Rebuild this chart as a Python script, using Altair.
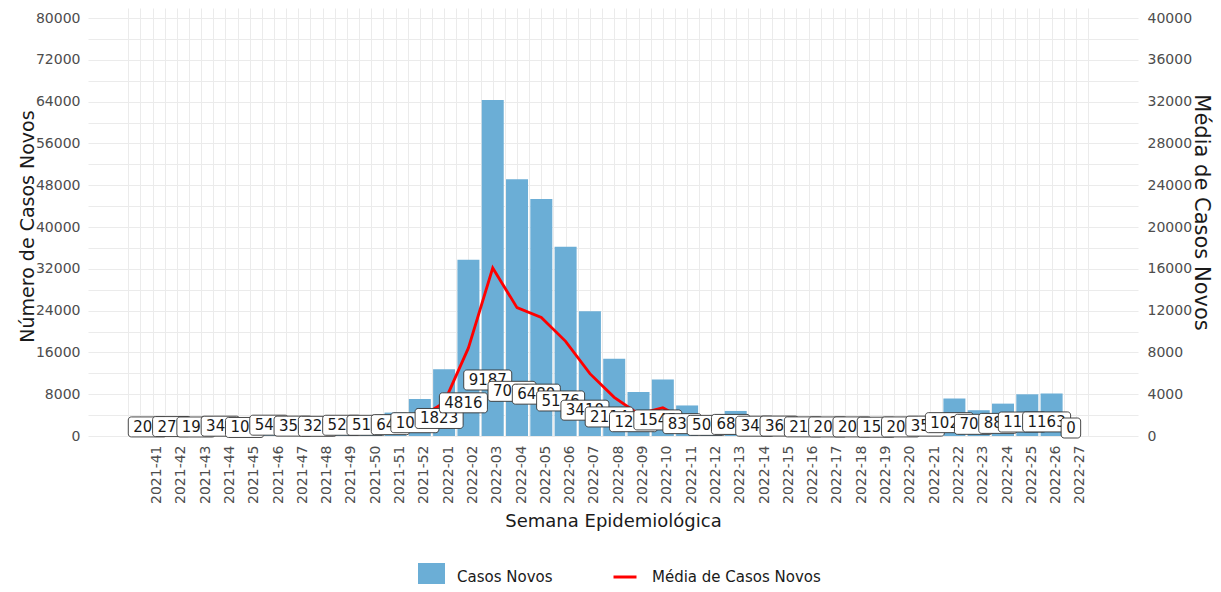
import altair as alt
import pandas as pd

# ---- data ----
semanas = ["2021-41", "2021-42", "2021-43", "2021-44", "2021-45", "2021-46", "2021-47",
           "2021-48", "2021-49", "2021-50", "2021-51", "2021-52", "2022-01", "2022-02",
           "2022-03", "2022-04", "2022-05", "2022-06", "2022-07", "2022-08", "2022-09",
           "2022-10", "2022-11", "2022-12", "2022-13", "2022-14", "2022-15", "2022-16",
           "2022-17", "2022-18", "2022-19", "2022-20", "2022-21", "2022-22", "2022-23",
           "2022-24", "2022-25", "2022-26", "2022-27"]

casos = [1435, 1904, 1351, 2415, 728, 3787, 2492, 2261, 3668, 3605, 4480, 7077,
         12761, 33712, 64309, 49126, 45360, 36232, 23870, 14798, 8421, 10815, 5845,
         3535, 4795, 2415, 2534, 1498, 1421, 1449, 1071, 1442, 2492, 7175, 4935, 6195,
         7980, 8141, 0]

media = [205, 272, 193, 345, 104, 541, 356, 323, 524, 515, 640, 1011,
         1823, 4816, 9187, 7018, 6480, 5176, 3410, 2114, 1203, 1545, 835,
         505, 685, 345, 362, 214, 203, 207, 153, 206, 356, 1025, 705, 885,
         1140, 1163, 0]

linha = [359, 476, 338, 604, 182, 947, 623, 565, 917, 901, 1120, 1769,
         3190, 8428, 16077, 12282, 11340, 9058, 5968, 3700, 2105, 2704, 1461,
         884, 1199, 604, 634, 375, 355, 362, 268, 361, 623, 1794, 1234, 1549,
         1995, 2035, 0]

df = pd.DataFrame({
    "idx": list(range(len(semanas))),
    "semana": semanas,
    "casos": casos,
    "media": media,
    "linha": linha,
    "rotulo": [str(m) for m in media],
})

FONT = "DejaVu Sans"
Y_TOP = 81914
xscale = alt.Scale(domain=[-2.45, 40.35], nice=False, zero=False)
yscale = alt.Scale(domain=[0, Y_TOP], nice=False, zero=False)
y2scale = alt.Scale(domain=[0, Y_TOP / 2], nice=False, zero=False)

grid_x = [i * 0.5 for i in range(-2, 78)]
grid_y = list(range(0, 80001, 4000))
grid_y2 = list(range(0, 40001, 4000))

arr = "[" + ",".join("'" + s + "'" for s in semanas) + "]"
x_label_expr = ("(datum.value >= 0 && datum.value <= %d && datum.value %% 1 == 0) ? %s[datum.value] : ''"
                % (len(semanas) - 1, arr))

x_axis = alt.Axis(values=grid_x, labelExpr=x_label_expr, title="Semana Epidemiológica",
                  labelAngle=270, labelAlign="right", labelBaseline="middle",
                  labelPadding=9, labelOffset=4, labelOverlap=False, labelFlush=False,
                  titleX=525, titleY=85, titleAlign="center", titleBaseline="middle",
                  titleFontSize=18, grid=True)


def xenc():
    return alt.X("idx:Q", scale=xscale, axis=x_axis)


bars = alt.Chart().transform_calculate(serie="'Casos Novos'").mark_bar(width=22).encode(
    x=xenc(),
    y=alt.Y("casos:Q", scale=yscale, stack=None,
            axis=alt.Axis(values=grid_y, format="d",
                          labelExpr="datum.value % 8000 == 0 ? datum.label : ''",
                          title="Número de Casos Novos", labelPadding=8,
                          titleAngle=270, titleX=-61, titleY=218, titleAlign="center",
                          titleBaseline="middle", titleFontSize=19, grid=True,
                          labelOverlap=False)),
    fill=alt.Fill("serie:N",
                  scale=alt.Scale(domain=["Casos Novos"], range=["#6baed6"]),
                  legend=alt.Legend(title=None, orient="none", legendX=330, legendY=555,
                                    symbolType="square", symbolSize=729,
                                    symbolStrokeWidth=0, symbolOpacity=1,
                                    labelOffset=12, labelFontSize=15, padding=0,
                                    labelLimit=400)),
)

line = alt.Chart().transform_calculate(serie2="'Média de Casos Novos'").mark_line(strokeWidth=2.8).encode(
    x=xenc(),
    y=alt.Y("linha:Q", scale=y2scale,
            axis=alt.Axis(orient="right", values=grid_y2, format="d", grid=False,
                          title="Média de Casos Novos", labelPadding=9, labelAlign="left",
                          titleAngle=90, titleX=62, titleY=204, titleAlign="center",
                          titleBaseline="middle", titleFontSize=21, labelOverlap=False)),
    stroke=alt.Stroke("serie2:N",
                      scale=alt.Scale(domain=["Média de Casos Novos"], range=["#ff0000"]),
                      legend=alt.Legend(title=None, orient="none", legendX=524, legendY=556,
                                        symbolType="stroke", symbolSize=529,
                                        symbolStrokeWidth=3, labelOffset=14,
                                        labelFontSize=15, padding=0, labelLimit=400)),
)

SHIFT = -5
label_layers = []
for i, m in enumerate(media):
    w = len(str(m)) * 9.5 + 10
    base = alt.Chart().transform_filter(alt.datum.idx == i)
    box = base.mark_rect(fill="white", stroke="#333333", strokeWidth=0.9, cornerRadius=3,
                         xOffset=-w / 2 + SHIFT, x2Offset=w / 2 + SHIFT,
                         yOffset=-18, y2Offset=2).encode(
        x=xenc(),
        x2="idx:Q",
        y=alt.Y("media:Q", scale=yscale, axis=None),
        y2="media:Q",
    )
    txt = base.mark_text(font=FONT, fontSize=15, color="#1a1a1a", dx=SHIFT, dy=-8,
                         baseline="middle", align="center").encode(
        x=xenc(),
        y=alt.Y("media:Q", scale=yscale, axis=None),
        text="rotulo:N",
    )
    label_layers += [box, txt]

chart = alt.layer(bars, line, *label_layers, data=df).resolve_scale(
    y="independent"
).properties(
    width=1050, height=428,
    autosize=alt.AutoSizeParams(type="none"),
    padding={"left": 80, "top": 0, "right": 75, "bottom": 148},
).configure_view(strokeWidth=0).configure_axis(
    labelFont=FONT, labelFontSize=14, labelColor="#4d4d4d",
    titleFont=FONT, titleFontWeight="normal", titleColor="#1a1a1a",
    domain=False, ticks=False, gridColor="#ebebeb", gridWidth=1,
).configure_legend(
    labelFont=FONT, labelColor="#1a1a1a",
).configure_text(font=FONT)

chart.save("out.html", embed_options={"renderer": "svg", "actions": False})
